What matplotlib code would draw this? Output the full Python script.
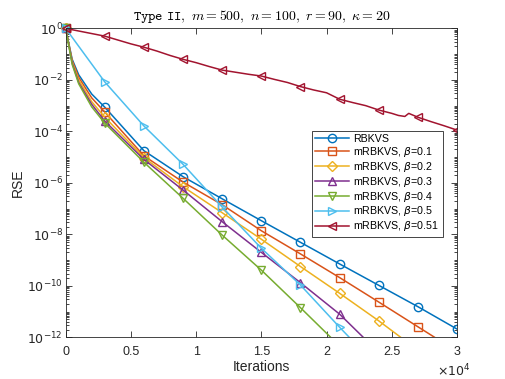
import numpy as np
import matplotlib
matplotlib.use("Agg")
import matplotlib.pyplot as plt
from matplotlib import ticker

# values, stored as log10(RSE)
iters = [0, 500, 1000, 2000, 3000, 6000, 9000, 12000, 15000, 18000, 21000, 24000, 27000, 30000]
rbkvs_log = [0, -1.2, -1.8, -2.55, -3.06, -4.75, -5.76, -6.62, -7.47, -8.31, -9.15, -9.98, -10.81, -11.68]
b01_log = [0, -1.25, -1.9, -2.7, -3.25, -4.95, -5.97, -6.85, -7.86, -8.76, -9.68, -10.63, -11.59, -12.55]
b02_log = [0, -1.3, -2.0, -2.85, -3.45, -5.02, -6.15, -7.16, -8.19, -9.25, -10.29, -11.36, -12.5]
b03_log = [0, -1.35, -2.1, -2.95, -3.6, -5.09, -6.28, -7.51, -8.70, -9.88, -11.10, -12.59]
b04_log = [0, -1.4, -2.15, -3.05, -3.68, -5.2, -6.6, -8.03, -9.39, -10.85, -12.34]

iters_b05 = [0, 3000, 6000, 9000, 12000, 15000, 18000, 21000, 24000]
b05_log = [0, -2.08, -3.79, -5.28, -6.94, -8.54, -9.97, -11.61, -13.19]

iters_b051 = [0, 1000, 2000, 3000, 4000, 5000, 6000, 7000, 8000, 9000, 10000, 11000,
              12000, 13000, 14000, 15000, 16000, 17000, 18000, 19000, 20000, 21000,
              22000, 23000, 24000, 25000, 25500, 26000, 26300, 27000, 28000, 29000, 30000]
b051_log = [0, -0.10, -0.20, -0.30, -0.45, -0.60, -0.73, -0.88, -1.05, -1.20, -1.33, -1.48,
            -1.62, -1.70, -1.78, -1.85, -1.98, -2.10, -2.26, -2.39, -2.50, -2.75,
            -2.88, -3.00, -3.17, -3.30, -3.38, -3.42, -3.30, -3.45, -3.62, -3.78, -3.95]

labels = ["RBKVS", r"mRBKVS, $\beta$=0.1", r"mRBKVS, $\beta$=0.2", r"mRBKVS, $\beta$=0.3",
          r"mRBKVS, $\beta$=0.4", r"mRBKVS, $\beta$=0.5", r"mRBKVS, $\beta$=0.51"]
colors = ["#0072BD", "#D95319", "#EDB120", "#7E2F8E", "#77AC30", "#4DBEEE", "#A2142F"]
markers = ["o", "s", "D", "^", "v", ">", "<"]

series = [
    (iters, rbkvs_log),
    (iters[:len(b01_log)], b01_log),
    (iters[:len(b02_log)], b02_log),
    (iters[:len(b03_log)], b03_log),
    (iters[:len(b04_log)], b04_log),
    (iters_b05, b05_log),
    (iters_b051, b051_log),
]

plt.rcParams['font.family'] = ['Liberation Sans', 'DejaVu Sans']
plt.rcParams['font.size'] = 9

fig = plt.figure(figsize=(5.05, 3.79), dpi=100)
ax = fig.add_axes([0.13, 0.11, 0.775, 0.815])

ink = "#262626"
for (x, lg), lab, c, m in zip(series, labels, colors, markers):
    x = np.array(x)
    y = 10.0 ** np.array(lg)
    marks = [i for i, v in enumerate(x) if v % 3000 == 0]
    ms = 5 if m == "D" else 6
    ax.plot(x, y, color=c, lw=1.1, marker=m, ms=ms, mfc="none", mec=c, mew=1.0,
            markevery=marks, label=lab)
    # start marker sits on the top edge and is not clipped
    ax.plot(x[:1], y[:1], ls="none", marker=m, ms=ms, mfc="none", mec=c, mew=1.0,
            clip_on=False)

ax.set_yscale("log")
ax.set_xlim(0, 30000)
ax.set_ylim(1e-12, 1)

ax.yaxis.set_major_locator(ticker.FixedLocator([10.0 ** k for k in range(-12, 1, 2)]))
ax.yaxis.set_major_formatter(ticker.FuncFormatter(lambda v, p: r"$10^{%d}$" % round(np.log10(v))))
ax.yaxis.set_minor_locator(ticker.LogLocator(base=10, subs=np.arange(1, 10), numticks=100))
ax.yaxis.set_minor_formatter(ticker.NullFormatter())

ax.set_xticks([0, 5000, 10000, 15000, 20000, 25000, 30000])
ax.set_xticklabels(["0", "0.5", "1", "1.5", "2", "2.5", "3"])
ax.text(1.035, -0.11, r"$\times10^{4}$", transform=ax.transAxes, ha="right", va="center",
        color=ink, fontsize=9)

ax.tick_params(which="both", direction="in", top=True, right=True, colors=ink, width=0.6)
ax.tick_params(which="major", length=4, labelcolor=ink)
ax.tick_params(axis="y", which="major", pad=2)
ax.tick_params(axis="x", which="major", pad=6)
ax.tick_params(which="minor", length=2)
for s in ax.spines.values():
    s.set_color(ink)
    s.set_linewidth(0.6)

ax.set_xlabel("Iterations", color=ink, labelpad=2, fontsize=10)
ax.set_ylabel("RSE", color=ink, fontsize=10)
ax.yaxis.set_label_coords(-0.105, 0.5)
ax.set_title(r"$\mathtt{Type\ II},\ m = 500,\ n = 100,\ r = 90,\ \kappa = 20$",
             math_fontfamily="cm", fontsize=10, pad=6)

leg = ax.legend(loc="upper right", bbox_to_anchor=(0.963, 0.668), fontsize=7.7,
                handlelength=3.2, borderpad=0.3, labelspacing=0.08, handletextpad=0.4,
                fancybox=False, framealpha=1, edgecolor=ink, borderaxespad=0)
leg.get_frame().set_linewidth(0.6)

fig.savefig("out.png", dpi=100)
plt.close(fig)
